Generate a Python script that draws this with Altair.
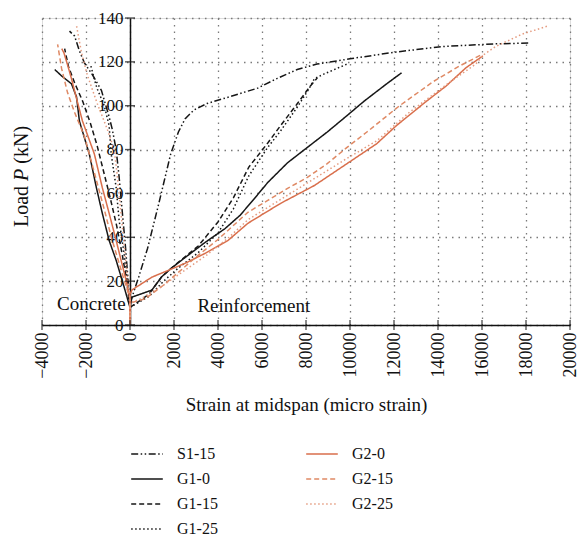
import altair as alt
import pandas as pd

# ---------------------------------------------------------------------------
# Load versus midspan strain, for each specimen split into the concrete
# (compressive) branch and the reinforcement (tensile) branch.
# ---------------------------------------------------------------------------
SERIES = ["S1-15", "G1-0", "G1-15", "G1-25", "G2-0", "G2-15", "G2-25"]

S1_15_CONC_X = [0, -100, -200, -300, -400, -500, -630, -800, -950, -1300, -1700, -2070, -2300, -2520, -2750]
S1_15_CONC_Y = [10, 22, 35, 46, 57, 68, 80, 89, 95, 107, 114, 119.5, 125, 131.8, 134]
S1_15_REIN_X = [0, 400, 800, 1300, 1850, 2200, 2500, 2900, 3500, 4500, 5800, 6700, 7600, 8500, 10000, 12100, 14200, 16600, 18200]
S1_15_REIN_Y = [10, 22, 35, 55, 78, 88, 94, 98, 101, 104, 108, 112.5, 116.5, 119, 121.4, 124.5, 127, 128.2, 128.6]

G1_0_CONC_X = [0, -135, -360, -630, -950, -1260, -1530, -1850, -2300, -2430, -2660, -3110, -3420]
G1_0_CONC_Y = [8, 12.7, 20.5, 29.5, 38.6, 51, 62.7, 78, 93, 104, 110, 113.6, 116.5]
G1_0_REIN_X = [0, 90, 990, 1440, 1890, 2520, 3420, 4325, 5000, 5600, 6262, 7163, 8064, 8965, 9866, 10632, 11668, 12344]
G1_0_REIN_Y = [8, 12.7, 15.9, 22, 26, 30.9, 37.7, 44, 50, 57, 65, 74, 81, 88, 95.5, 102, 110, 115]

G1_15_CONC_X = [0, -150, -350, -600, -900, -1200, -1500, -1800, -2150, -2500, -2800, -2970]
G1_15_CONC_Y = [8, 20, 32, 45, 58, 70, 82, 92, 102, 110, 118, 126]
G1_15_REIN_X = [0, 860, 1440, 2000, 3100, 4000, 4700, 5400, 6262, 6850, 7610, 8200, 8515]
G1_15_REIN_Y = [8, 14, 22, 27, 36, 47, 58, 72, 83, 91, 101, 109, 112.7]

G1_25_CONC_X = [0, -135, -270, -495, -630, -855, -950, -1170, -1490, -1620, -1800]
G1_25_CONC_Y = [8, 20.5, 32.7, 47.7, 62.7, 78, 91, 100, 107.7, 112, 119]
G1_25_REIN_X = [0, 860, 1530, 2200, 3100, 4000, 4700, 5400, 6262, 6850, 7613, 8154, 8380, 8830, 9866]
G1_25_REIN_Y = [8, 13, 20, 26, 33, 42, 53, 68, 81, 88.6, 99.5, 108, 112.3, 114.5, 119]

G2_0_CONC_X = [0, 0, -180, -405, -630, -950, -1260, -1620, -2160, -2450, -2650, -2850, -3000, -3100]
G2_0_CONC_Y = [0, 12, 20.5, 29.5, 38.6, 51, 62.7, 78, 93, 104, 112, 119, 124, 126]
G2_0_REIN_X = [0, 0, 90, 990, 1760, 2520, 3420, 4460, 5360, 6850, 8380, 9866, 11217, 12118, 13470, 14370, 15270, 16040]
G2_0_REIN_Y = [0, 14, 16, 21.8, 25, 28.2, 32.7, 38.6, 46.4, 55.5, 63.6, 73.6, 82.7, 91, 102, 109, 117.3, 122.7]

G2_15_CONC_X = [0, 0, -250, -550, -850, -1150, -1500, -1850, -2070, -2520, -2840, -3110, -3290]
G2_15_CONC_Y = [0, 12, 20, 30, 40, 52, 65, 78, 86, 97, 106, 117, 128]
G2_15_REIN_X = [0, 0, 700, 1500, 2200, 3000, 4000, 5360, 6262, 7163, 8064, 8965, 9866, 10767, 12254, 13785, 14957, 16040]
G2_15_REIN_Y = [0, 10, 12, 18, 24, 31, 39, 51.4, 56.8, 62.3, 67.3, 73.6, 81, 88, 100, 111, 118, 123.6]

G2_25_CONC_X = [0, 0, -150, -300, -450, -600, -720, -1040, -1490, -1940, -2200, -2430]
G2_25_CONC_Y = [0, 12, 25, 40, 55, 70, 80, 89.5, 101, 114, 124, 136.4]
G2_25_REIN_X = [0, 0, 500, 1500, 2500, 3500, 4500, 5360, 7613, 9866, 11217, 12700, 14500, 15720, 16040, 16620, 17840, 19010]
G2_25_REIN_Y = [0, 10, 12, 18, 25, 32, 40, 48, 62, 76, 84, 97, 110.5, 119, 123, 127, 132.7, 136.4]

BRANCHES = {
    "S1-15": [(S1_15_CONC_X, S1_15_CONC_Y), (S1_15_REIN_X, S1_15_REIN_Y)],
    "G1-0": [(G1_0_CONC_X, G1_0_CONC_Y), (G1_0_REIN_X, G1_0_REIN_Y)],
    "G1-15": [(G1_15_CONC_X, G1_15_CONC_Y), (G1_15_REIN_X, G1_15_REIN_Y)],
    "G1-25": [(G1_25_CONC_X, G1_25_CONC_Y), (G1_25_REIN_X, G1_25_REIN_Y)],
    "G2-0": [(G2_0_CONC_X, G2_0_CONC_Y), (G2_0_REIN_X, G2_0_REIN_Y)],
    "G2-15": [(G2_15_CONC_X, G2_15_CONC_Y), (G2_15_REIN_X, G2_15_REIN_Y)],
    "G2-25": [(G2_25_CONC_X, G2_25_CONC_Y), (G2_25_REIN_X, G2_25_REIN_Y)],
}

COLORS = {
    "S1-15": "#161616", "G1-0": "#161616", "G1-15": "#161616", "G1-25": "#161616",
    "G2-0": "#d96f4c", "G2-15": "#df8964", "G2-25": "#e59c80",
}
DASHES = {
    "S1-15": [7, 2.5, 1.5, 2.5, 1.5, 2.5],
    "G1-0": [1, 0],
    "G1-15": [5, 3],
    "G1-25": [1.5, 2.5],
    "G2-0": [1, 0],
    "G2-15": [5, 3],
    "G2-25": [1.5, 2.5],
}

X_TICKS = [-4000, -2000, 0, 2000, 4000, 6000, 8000, 10000, 12000, 14000, 16000, 18000, 20000]
Y_TICKS = [0, 20, 40, 60, 80, 100, 120, 140]

ANNOT_TEXT = ["Concrete", "Reinforcement"]
ANNOT_X = [-1757, 5631]
ANNOT_Y = [9.5, 8.6]

FONT = "Liberation Serif"
W, H = 528, 307
X_DOMAIN = [-4000, 20000]
Y_DOMAIN = [0, 140]
# the load axis sits on the zero-strain line
Y_AXIS_SHIFT = -W * (0 - X_DOMAIN[0]) / (X_DOMAIN[1] - X_DOMAIN[0])

rows = []
for name in SERIES:
    for b, (xs, ys) in enumerate(BRANCHES[name]):
        for i, (xv, yv) in enumerate(zip(xs, ys)):
            rows.append({"series": name, "branch": f"{name}-{b}", "idx": i, "strain": xv, "load": yv})
df = pd.DataFrame(rows)

x_scale = alt.Scale(domain=X_DOMAIN, nice=False, zero=False)
y_scale = alt.Scale(domain=Y_DOMAIN, nice=False)

# two legend columns: black specimens on the left, orange ones on the right
legend = alt.Legend(
    title=None, orient="none", legendX=88, legendY=419, columns=2,
    symbolType="stroke", symbolSize=1000, symbolStrokeWidth=1.6,
    labelFont=FONT, labelFontSize=16, labelColor="#111", labelOffset=13,
    rowPadding=0, columnPadding=84, padding=0,
)

GRID = dict(grid=True, gridColor="#7a7a7a", gridDash=[1.5, 5], gridWidth=1.3)

lines = alt.Chart(df).mark_line(strokeWidth=1.5).encode(
    x=alt.X("strain:Q", scale=x_scale, axis=alt.Axis(
        values=X_TICKS, format="d", labelAngle=270, labelFont=FONT, labelFontSize=18,
        labelColor="#111", labelPadding=7, ticks=False, domainColor="#111", domainWidth=1.5,
        title="Strain at midspan (micro strain)", titleFont=FONT, titleFontSize=19,
        titleFontWeight="normal", titleColor="#111", titlePadding=17, **GRID)),
    y=alt.Y("load:Q", scale=y_scale, axis=alt.Axis(
        values=Y_TICKS, offset=Y_AXIS_SHIFT, labelFont=FONT, labelFontSize=17,
        labelColor="#111", labelPadding=7, ticks=False, domainColor="#111", domainWidth=1.5,
        title=None, **GRID)),
    color=alt.Color("series:N", scale=alt.Scale(domain=SERIES, range=[COLORS[s] for s in SERIES]), legend=legend),
    strokeDash=alt.StrokeDash("series:N", scale=alt.Scale(domain=SERIES, range=[DASHES[s] for s in SERIES]), legend=legend),
    detail="branch:N",
    order="idx:Q",
)

# tick marks crossing both axis lines
y_ticks = alt.Chart(pd.DataFrame({"v": Y_TICKS})).mark_tick(
    orient="horizontal", size=10, thickness=1.4, color="#111").encode(
    x=alt.datum(0), y=alt.Y("v:Q", scale=y_scale))
x_ticks = alt.Chart(pd.DataFrame({"v": X_TICKS})).mark_tick(
    orient="vertical", size=10, thickness=1.4, color="#111").encode(
    x=alt.X("v:Q", scale=x_scale), y=alt.datum(0))

annots = alt.Chart(pd.DataFrame({"t": ANNOT_TEXT, "x": ANNOT_X, "y": ANNOT_Y})).mark_text(
    font=FONT, fontSize=19, color="#111", align="center", baseline="middle").encode(
    x=alt.X("x:Q", scale=x_scale), y=alt.Y("y:Q", scale=y_scale), text="t:N")

# rotated load-axis title with an italic P
TITLE_X = -20
TITLE_FS = 20
title_parts = []
for txt, ypos, style in [("Load", 209, "normal"), ("P", 162.9, "italic"), ("(kN)", 145.7, "normal")]:
    title_parts.append(
        alt.Chart(pd.DataFrame({"t": [txt]})).mark_text(
            font=FONT, fontSize=TITLE_FS, fontStyle=style, color="#111", angle=270,
            align="left", baseline="middle").encode(
            x=alt.value(TITLE_X), y=alt.value(ypos), text="t:N"))

chart = alt.layer(lines, y_ticks, x_ticks, annots, *title_parts).properties(
    width=W, height=H,
    autosize=alt.AutoSizeParams(type="none"),
    padding={"left": 42, "top": 18, "right": 581 - 42 - W, "bottom": 214},
).configure_view(stroke=None).configure(background="white")

chart.save("out.html", embed_options={"renderer": "svg", "actions": False})
